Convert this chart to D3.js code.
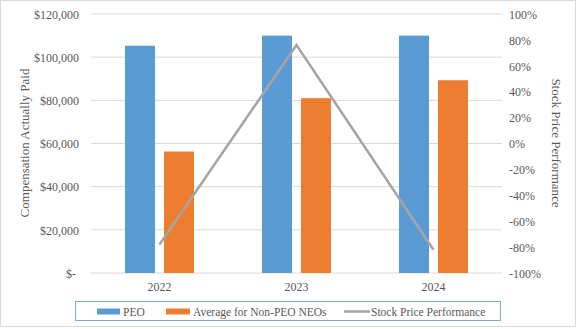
<!DOCTYPE html>
<html><head><meta charset="utf-8">
<script src="https://cdn.jsdelivr.net/npm/d3@7"></script>
<style>body{margin:0;background:#fff}svg{display:block}text{font-family:"Liberation Serif","Times New Roman",serif;fill:#595959}</style>
</head><body><svg id="c" width="576" height="329"></svg>
<script>
const years = ["2022","2023","2024"];
const peo = [105300, 110000, 110000];
const nonPeo = [56300, 81000, 89300];
const stockPerf = [-0.78, 0.76, -0.82];
const leftTicks = [0,20000,40000,60000,80000,100000,120000];
const rightTicks = [-1,-0.8,-0.6,-0.4,-0.2,0,0.2,0.4,0.6,0.8,1];

const svg = d3.select("#c");
const W=576,H=329;
svg.append("rect").attr("x",0.5).attr("y",0.5).attr("width",W-1).attr("height",H-3).attr("fill","#fff").attr("stroke","#d9d9d9");
const x0=91,x1=502,yTop=14,yBot=273;
const x = d3.scaleBand().domain(years).range([x0,x1]);
const yL = d3.scaleLinear().domain([0,120000]).range([yBot,yTop]);
const yR = d3.scaleLinear().domain([-1,1]).range([yBot,yTop]);

// gridlines
svg.append("g").selectAll("line").data(leftTicks).join("line")
 .attr("x1",x0).attr("x2",x1).attr("y1",d=>yL(d)).attr("y2",d=>yL(d))
 .attr("stroke","#d9d9d9").attr("stroke-width",1);

// left axis
const fmt = d=> d===0 ? "$-" : "$"+d3.format(",")(d);
const gL = svg.append("g").attr("transform",`translate(${x0},0)`)
 .call(d3.axisLeft(yL).tickValues(leftTicks).tickFormat(fmt).tickSize(0).tickPadding(12));
gL.select(".domain").remove();
gL.selectAll("text").attr("font-size",12).attr("dy","0.35em").attr("dx",d=>d===0?-3:0);

// right axis
const pct = d => (d<0?"-":"") + Math.round(Math.abs(d)*100) + "%";
const gR = svg.append("g").attr("transform",`translate(${x1},0)`)
 .call(d3.axisRight(yR).tickValues(rightTicks).tickFormat(pct).tickSize(0).tickPadding(7));
gR.select(".domain").remove();
gR.selectAll("text").attr("font-size",12).attr("dy","0.35em");

// x labels
svg.append("g").selectAll("text").data(years).join("text")
 .attr("x",d=>x(d)+x.bandwidth()/2).attr("y",291).attr("text-anchor","middle").attr("font-size",12).text(d=>d);

// bars
const bw=30,gap=9;
svg.append("g").selectAll("rect").data(years).join("rect")
 .attr("x",d=>x(d)+x.bandwidth()/2-gap/2-bw).attr("width",bw)
 .attr("y",(d,i)=>yL(peo[i])).attr("height",(d,i)=>yBot-yL(peo[i])).attr("fill","#5B9BD5");
svg.append("g").selectAll("rect").data(years).join("rect")
 .attr("x",d=>x(d)+x.bandwidth()/2+gap/2).attr("width",bw)
 .attr("y",(d,i)=>yL(nonPeo[i])).attr("height",(d,i)=>yBot-yL(nonPeo[i])).attr("fill","#ED7D31");

// line
const line = d3.line().x((d,i)=>x(years[i])+x.bandwidth()/2).y(d=>yR(d));
svg.append("path").datum(stockPerf).attr("d",line).attr("fill","none").attr("stroke","#A5A5A5").attr("stroke-width",2.5);

// axis titles
svg.append("text").attr("transform","translate(29,143) rotate(-90)").attr("text-anchor","middle").attr("font-size",13).text("Compensation Actually Paid");
svg.append("text").attr("transform","translate(552,143) rotate(90)").attr("text-anchor","middle").attr("font-size",13).text("Stock Price Performance");

// legend
svg.append("rect").attr("x",75.5).attr("y",301.5).attr("width",425).attr("height",19).attr("fill","#fff").attr("stroke","#7fa7cf").attr("stroke-width",1);
const ly=311.5;
const lg = svg.append("g");
lg.append("rect").attr("x",97).attr("y",ly-3).attr("width",23).attr("height",6).attr("fill","#5B9BD5");
lg.append("text").attr("x",123).attr("y",ly).attr("dy","0.35em").attr("font-size",11.5).text("PEO");
lg.append("rect").attr("x",166).attr("y",ly-3).attr("width",24).attr("height",6).attr("fill","#ED7D31");
lg.append("text").attr("x",193).attr("y",ly).attr("dy","0.35em").attr("font-size",11.5).text("Average for Non-PEO NEOs");
lg.append("line").attr("x1",344).attr("x2",370).attr("y1",ly).attr("y2",ly).attr("stroke","#A5A5A5").attr("stroke-width",2.5);
lg.append("text").attr("x",371).attr("y",ly).attr("dy","0.35em").attr("font-size",11.5).text("Stock Price Performance");
</script></body></html>
